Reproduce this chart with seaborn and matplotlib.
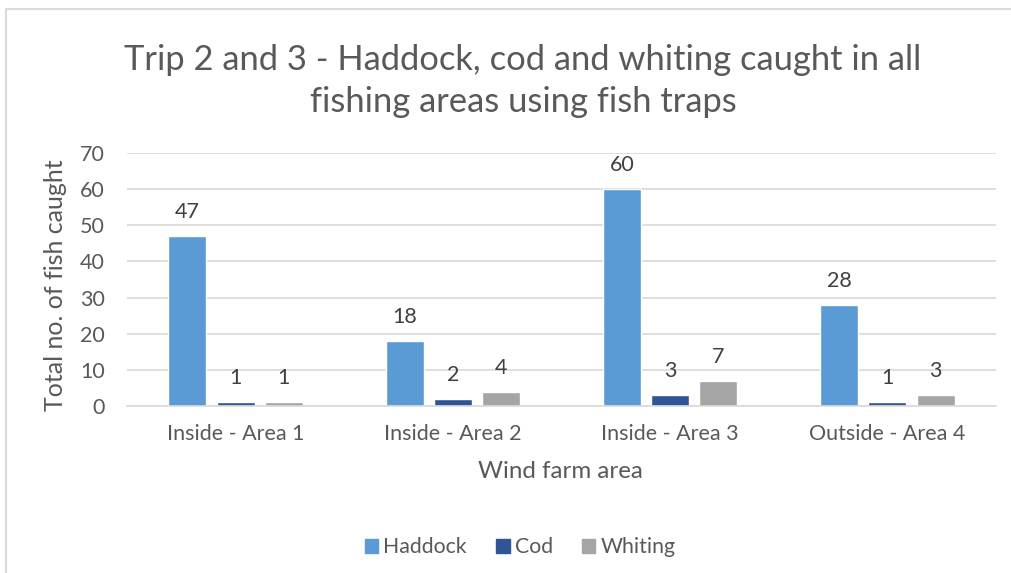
import matplotlib
matplotlib.use("Agg")
import matplotlib.pyplot as plt
import matplotlib.patches as mpatches
import seaborn as sns
import pandas as pd

areas = ["Inside - Area 1", "Inside - Area 2", "Inside - Area 3", "Outside - Area 4"]
species = ["Haddock", "Cod", "Whiting"]
haddock = [47, 18, 60, 28]
cod = [1, 2, 3, 1]
whiting = [1, 4, 7, 3]
colors = ["#5B9BD5", "#2F5597", "#A5A5A5"]
title_lines = ["Trip 2 and 3 - Haddock, cod and whiting caught in all",
               "fishing areas using fish traps"]

rows = []
for sp, vals in zip(species, [haddock, cod, whiting]):
    for a, v in zip(areas, vals):
        rows.append({"area": a, "species": sp, "count": v})
df = pd.DataFrame(rows)

sns.set_theme(style="white")
plt.rcParams["font.family"] = ["Lato", "DejaVu Sans"]
TXT = "#595959"
W, H = 1012, 573

fig = plt.figure(figsize=(W / 100, H / 100), dpi=100)
ax = fig.add_axes([127 / W, 1 - 406 / H, (996 - 127) / W, (406 - 153) / H])

sns.barplot(data=df, x="area", y="count", hue="species", hue_order=species,
            palette=colors, width=0.666, gap=0.216, ax=ax, legend=False,
            saturation=1, errorbar=None)

ax.set_ylim(0, 70)
ax.set_yticks(range(0, 71, 10))
ax.yaxis.grid(True, color="#D9D9D9", linewidth=1.2)
ax.set_axisbelow(True)
for s in ["top", "right", "left"]:
    ax.spines[s].set_visible(False)
ax.spines["bottom"].set_color("#D9D9D9")
ax.spines["bottom"].set_linewidth(1.2)
ax.tick_params(axis="both", length=0, labelsize=15.5, colors=TXT)
ax.tick_params(axis="y", pad=16)
ax.tick_params(axis="x", pad=13)
ax.set_xlabel("")
ax.set_ylabel("")

fig.text(560 / W, 1 - 478 / H, "Wind farm area", ha="center", va="baseline",
         fontsize=17.4, color=TXT)
fig.text(56 / W, 1 - 285 / H, "Total no. of fish caught", ha="center", va="center",
         rotation=90, fontsize=18, color=TXT)

for cont in ax.containers:
    for bar in cont:
        h = bar.get_height()
        ax.annotate(f"{int(h)}", (bar.get_x() + bar.get_width() / 2, h),
                    xytext=(0, 10), textcoords="offset points",
                    ha="center", va="bottom", fontsize=15.5, color="#404040")

fig.text(523 / W, 1 - 70 / H, title_lines[0], ha="center", va="baseline",
         fontsize=24.8, color=TXT)
fig.text(523 / W, 1 - 112 / H, title_lines[1], ha="center", va="baseline",
         fontsize=24.8, color=TXT)

handles = [mpatches.Patch(color=c, label=s) for c, s in zip(colors, species)]
fig.legend(handles=handles, loc="center", bbox_to_anchor=(520 / W, 1 - 547 / H),
           ncol=3, frameon=False, fontsize=15.3, handlelength=0.64, handleheight=0.64,
           handletextpad=0.24, columnspacing=1.36, labelcolor=TXT)

border = mpatches.Rectangle((6 / W, -0.05), 1.2, 1 - 9 / H + 0.05,
                            transform=fig.transFigure, fill=False,
                            edgecolor="#D9D9D9", linewidth=1.5, clip_on=False)
fig.patches.append(border)

fig.savefig("out.png", dpi=100, facecolor="white")
